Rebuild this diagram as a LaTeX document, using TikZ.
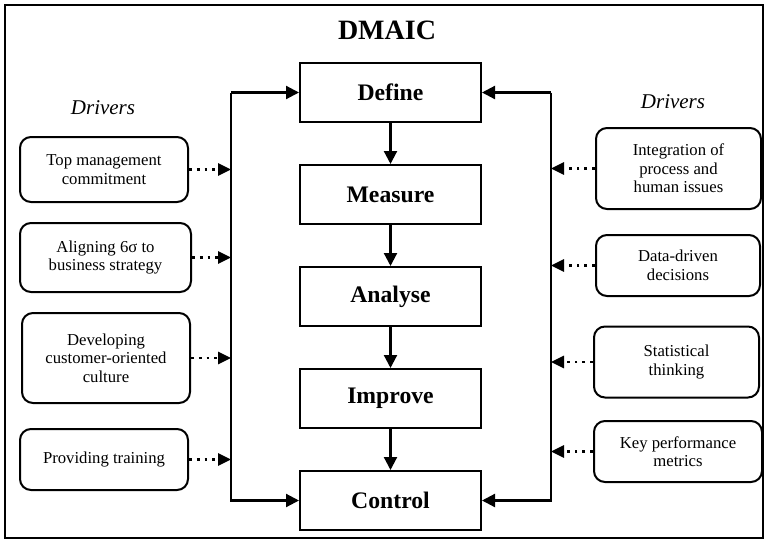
\documentclass[tikz,border=0pt]{standalone}
\usepackage{fontspec}
\setmainfont{Liberation Serif}
\usetikzlibrary{positioning}
\usetikzlibrary{calc}
\usetikzlibrary{arrows.meta}
\tikzset{
	node distance = 41pt and 1cm,
	flow/.style={-{Triangle[length=13pt,width=13pt]}, line width=2.2pt},
	driven/.style={-{Triangle[length=13pt,width=12pt]}, line width=2.8pt, dash pattern=on 2.8pt off 5pt},
	phase/.style={rectangle, draw, line width=2pt, minimum width=181pt, minimum height=59pt, font=\fontsize{23.7}{27}\selectfont\bfseries},
	driver/.style={rectangle, rounded corners=11pt, draw, line width=2pt, align=center, minimum width=168pt, font=\fontsize{16.7}{18.5}\selectfont},
	heading/.style={font=\fontsize{21}{24}\selectfont\itshape}
}
\begin{document}
\begin{tikzpicture}[x=1pt, y=-1pt]

					\useasboundingbox (0,0) rectangle (766,541);
					\draw[line width=2.5pt] (5,5) rectangle (763,538);

					\node[font=\fontsize{28}{30}\selectfont\bfseries] (title) at (387,30) {DMAIC};

					\node (define) [phase] at (390.5,92.5) {Define};
					\node (measure) [phase, below = of define] {Measure};
					\node (analyse) [phase, below = of measure] {Analyse};
					\node (improve) [phase, below = of analyse] {Improve};
					\node (control) [phase, below = of improve] {Control};

					\node (ldrivers) [heading] at (103,108) {Drivers};
					\node (rdrivers) [heading] at (673,102) {Drivers};

					% left drivers
					\node (topmgmt) [driver, minimum height=65pt] at (104,169.5) {Top management\\commitment};
					\node (aligning) [driver, minimum width=171pt, minimum height=69pt] at (105.5,257.5) {Aligning 6σ to\\business strategy};
					\node (developing) [driver, minimum height=90pt] at (106,358) {Developing\\customer-oriented\\culture};
					\node (training) [driver, minimum height=61pt] at (104,459.5) {Providing training};

					% right drivers
					\node (integration) [driver, minimum width=165pt, minimum height=81pt] at (678.5,168.5) {Integration of\\process and\\human issues};
					\node (datadriven) [driver, minimum width=164pt, minimum height=61pt] at (678,265.5) {Data-driven\\decisions};
					\node (statistical) [driver, minimum width=165pt, minimum height=71pt] at (676.5,362) {Statistical\\thinking};
					\node (metrics) [driver, minimum height=61pt] at (678,451.5) {Key performance\\metrics};

					\coordinate (ltop) at ($(define.west)+(-68,0)$);
					\coordinate (lbot) at (ltop |- control.west);
					\coordinate (rtop) at ($(define.east)+(69,0)$);
					\coordinate (rbot) at (rtop |- control.east);

					\draw[flow] (define) -- (measure);
					\draw[flow] (measure) -- (analyse);
					\draw[flow] (analyse) -- (improve);
					\draw[flow] (improve) -- (control);

					\draw[flow] (ltop) -- (define.west);
					\draw[flow] (ltop) -- (lbot) -- (control.west);
					\draw[flow] (rtop) -- (define.east);
					\draw[flow] (rtop) -- (rbot) -- (control.east);

					\draw[driven] (topmgmt) -- (topmgmt -| ltop);
					\draw[driven] (aligning) -- (aligning -| ltop);
					\draw[driven] (developing) -- (developing -| ltop);
					\draw[driven] (training) -- (training -| ltop);

					\draw[driven] (integration) -- (integration -| rtop);
					\draw[driven] (datadriven) -- (datadriven -| rtop);
					\draw[driven] (statistical) -- (statistical -| rtop);
					\draw[driven] (metrics) -- (metrics -| rtop);
				\end{tikzpicture}
\end{document}
